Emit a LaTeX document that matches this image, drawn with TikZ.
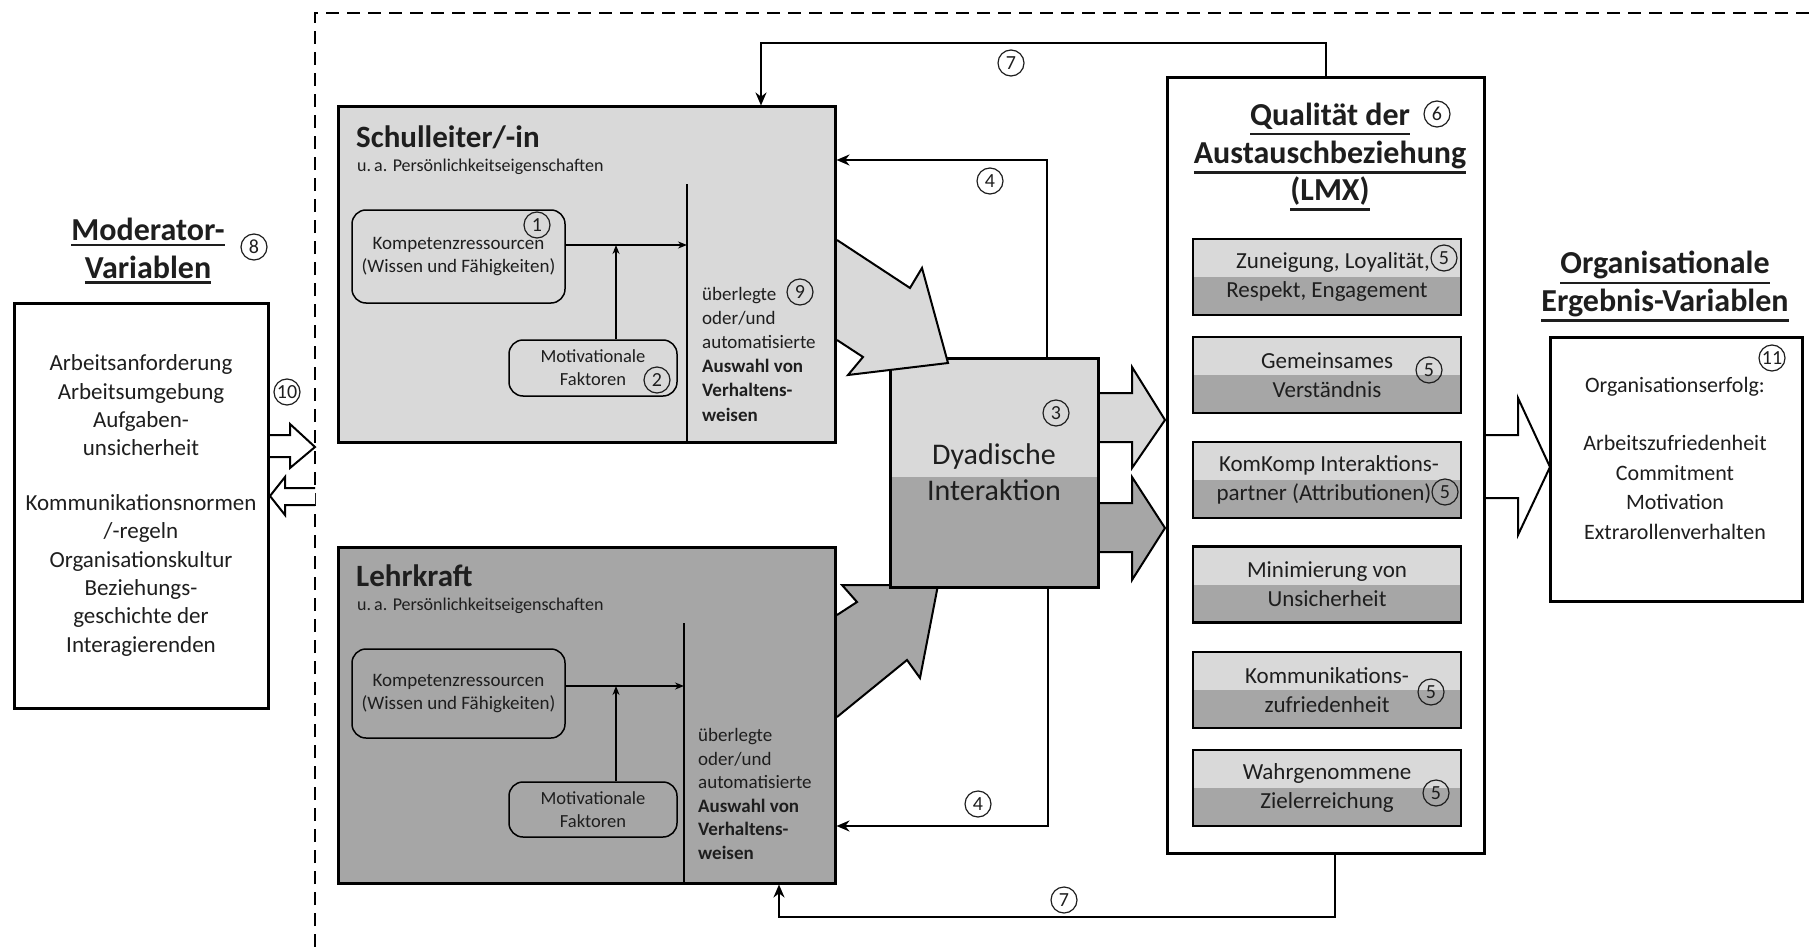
\documentclass[tikz,border=0pt]{standalone}
\usepackage{fontspec}
\setmainfont{Carlito}
\usetikzlibrary{arrows.meta,calc}

\definecolor{lightfill}{HTML}{D9D9D9}
\definecolor{darkfill}{HTML}{A6A6A6}
\definecolor{ink}{HTML}{1E1E1E}

% font size shorthand
\newcommand{\fs}[2]{\fontsize{#1}{#2}\selectfont}
% thick underline that sits below the descenders of its line
\newcommand{\ul}[1]{\setbox0\hbox{#1}\leavevmode\rlap{\vrule width\wd0 height\dimexpr-\dp0-3pt\relax depth\dimexpr\dp0+5.5pt\relax}\box0}

\tikzset{
  frame/.style={draw=black, line width=3pt, inner sep=0pt},
  roundbox/.style={draw=black, line width=1.5pt, rounded corners=14pt, inner sep=0pt},
  twotone/.style={fill=lightfill, path picture={
      \fill[darkfill] ($(path picture bounding box.south west)!#1!(path picture bounding box.north west)$)
        rectangle (path picture bounding box.south east);}},
  itembox/.style={frame, line width=2.6pt, twotone=0.5, minimum width=268pt, minimum height=76pt,
      align=center, font=\fs{23}{29}},
  num/.style={circle, draw=ink, line width=1.2pt, minimum size=26pt, inner sep=0pt,
      font=\fs{20}{20}, text=ink},
  conn/.style={draw=black, line width=2.2pt},
  tip/.style={-{Stealth[length=13pt,width=11pt]}},
  thinline/.style={draw=black, line width=1.5pt},
  thintip/.style={-{Stealth[length=9pt,width=7pt]}},
  blockout/.style={draw=black, line width=2pt, line join=miter},
  title/.style={font=\bfseries\fs{32}{37.5}, align=center},
}

\begin{document}
\begin{tikzpicture}[x=1pt,y=-1pt, every node/.style={text=ink}]
\useasboundingbox (0,0) rectangle (1809,947);
\fill[white] (0,0) rectangle (1809,947);

% dashed system boundary
\draw[line width=2.6pt, dash pattern=on 13pt off 8pt] (315,947) -- (315,13) -- (1809,13);

% ---------------- moderator variables ----------------
\node[title] (modtitle) at (148,251) {\ul{Moderator-}\\\ul{Variablen}};
\node[num] (n8) at (254,247) {8};
\node[frame, fill=white, minimum width=254pt, minimum height=405pt] (mod) at (141,505.5) {};
\node[align=center, font=\fs{23}{28.4}, inner sep=0pt] (modtext) at (mod.center)
  {Arbeitsanforderung\\Arbeitsumgebung\\Aufgaben-\\unsicherheit\\[26pt]Kommunikationsnormen\\/-regeln\\Organisationskultur\\Beziehungs-\\geschichte der\\Interagierenden};
\node[num] (n10) at (287,392) {10};
% hollow arrows between moderator box and boundary
\draw[blockout, fill=white] (270,435) -- (290,435) -- (290,424) -- (315,447) -- (290,468) -- (290,457) -- (270,457);
\draw[blockout, fill=white] (315,488) -- (285,488) -- (285,477) -- (270,496) -- (285,515) -- (285,505) -- (315,505);

% ---------------- Schulleiter/-in ----------------
\node[frame, fill=lightfill, minimum width=497pt, minimum height=335pt] (sl) at (586.5,274.5) {};
\node[anchor=base west, font=\bfseries\fs{31}{36}, inner sep=0pt] (sltitle) at (356,147) {Schulleiter/-in};
\node[anchor=base west, font=\fs{18}{20}, inner sep=0pt] (slsub) at (357,171) {u.\,a. Persönlichkeitseigenschaften};
\coordinate (slv) at (687,184);
\draw[thinline] (slv) -- (sl.south -| slv);
\node[roundbox, minimum width=213pt, minimum height=93pt, align=center, font=\fs{19}{23}] (slkomp) at (458.5,256.5)
  {Kompetenzressourcen\\(Wissen und Fähigkeiten)};
\node[roundbox, minimum width=168pt, minimum height=56pt, align=center, font=\fs{18.5}{23}] (slmot) at (593,368)
  {Motivationale\\Faktoren};
\coordinate (slj) at (616,245);
\draw[thinline, thintip] (slkomp.east |- slj) -- (slv |- slj);
\draw[thinline, thintip] (slmot.north -| slj) -- (slj);
\node[anchor=west, align=left, font=\fs{19}{24.2}, inner sep=0pt] (slchoice) at (702,354)
  {überlegte\\oder/und\\automatisierte\\\textbf{Auswahl von}\\\textbf{Verhaltens-}\\\textbf{weisen}};
\node[num] (n1) at (537,225) {1};
\node[num] (n2) at (657,380) {2};
\node[num] (n9) at (800,292) {9};

% ---------------- Lehrkraft ----------------
\node[frame, fill=darkfill, minimum width=497pt, minimum height=336pt] (lk) at (586.5,715) {};
\node[anchor=base west, font=\bfseries\fs{31}{36}, inner sep=0pt] (lktitle) at (356,586) {Lehrkraft};
\node[anchor=base west, font=\fs{18}{20}, inner sep=0pt] (lksub) at (357,610) {u.\,a. Persönlichkeitseigenschaften};
\coordinate (lkv) at (684,623);
\draw[thinline] (lkv) -- (lk.south -| lkv);
\node[roundbox, minimum width=213pt, minimum height=89pt, align=center, font=\fs{19}{23}] (lkkomp) at (458.5,693.5)
  {Kompetenzressourcen\\(Wissen und Fähigkeiten)};
\node[roundbox, minimum width=168pt, minimum height=55pt, align=center, font=\fs{18.5}{23}] (lkmot) at (593,809.5)
  {Motivationale\\Faktoren};
\coordinate (lkj) at (616,686);
\draw[thinline, thintip] (lkkomp.east |- lkj) -- (lkv |- lkj);
\draw[thinline, thintip] (lkmot.north -| lkj) -- (lkj);
\node[anchor=west, align=left, font=\fs{19}{23.6}, inner sep=0pt] (lkchoice) at (698,794)
  {überlegte\\oder/und\\automatisierte\\\textbf{Auswahl von}\\\textbf{Verhaltens-}\\\textbf{weisen}};

% ---------------- dyadic interaction ----------------
% block arrow from Lehrkraft (lies under the interaction box)
\fill[darkfill] (837,615) -- (857,602) -- (842,585) -- (938,585) -- (920,678) -- (907,660) -- (837,717) -- cycle;
\draw[blockout] (837,615) -- (857,602) -- (842,585) -- (938,585) -- (920,678) -- (907,660) -- (837,717);
\node[frame, twotone=0.48, minimum width=208pt, minimum height=229pt, align=center, font=\fs{30}{36}] (dy) at (994,472.5)
  {Dyadische\\Interaktion};
% block arrow from Schulleiter/-in (lies over the interaction box)
\fill[lightfill] (837,240) -- (910,288) -- (922,268) -- (948,363) -- (848,375) -- (863,357) -- (837,340) -- cycle;
\draw[blockout] (837,240) -- (910,288) -- (922,268) -- (948,363) -- (848,375) -- (863,357) -- (837,340);
\node[num] (n3) at (1056,413) {3};

% block arrows into the exchange quality box
\fill[lightfill] (1100,393) -- (1132,393) -- (1132,367) -- (1165,420) -- (1132,468) -- (1132,442) -- (1100,442) -- cycle;
\draw[blockout] (1100,393) -- (1132,393) -- (1132,367) -- (1165,420) -- (1132,468) -- (1132,442) -- (1100,442);
\fill[darkfill] (1100,503) -- (1132,503) -- (1132,477) -- (1165,528) -- (1132,580) -- (1132,552) -- (1100,552) -- cycle;
\draw[blockout] (1100,503) -- (1132,503) -- (1132,477) -- (1165,528) -- (1132,580) -- (1132,552) -- (1100,552);

% ---------------- quality of exchange (LMX) ----------------
\node[frame, fill=white, minimum width=317pt, minimum height=775pt] (lmx) at (1325.5,465.5) {};
\node[title] (lmxtitle) at (1330,157) {\ul{Qualität der}\\\ul{Austauschbeziehung}\\\ul{(LMX)}};
\node[num] (n6) at (1437,114) {6};
\node[itembox] (q1) at (1327,277) {\hspace*{12pt}Zuneigung, Loyalität,\\Respekt, Engagement};
\node[itembox] (q2) at (1327,375) {Gemeinsames\\Verständnis};
\node[itembox] (q3) at (1327,480) {KomKomp Interaktions-\hspace*{-4pt}\\partner (Attributionen)\hspace*{6pt}};
\node[itembox] (q4) at (1327,584.5) {Minimierung von\\Unsicherheit};
\node[itembox] (q5) at (1327,690) {Kommunikations-\\zufriedenheit};
\node[itembox] (q6) at (1327,788) {Wahrgenommene\\Zielerreichung};
\node[num] (n5a) at (1444,258) {5};
\node[num] (n5b) at (1429,370) {5};
\node[num] (n5c) at (1445,492) {5};
\node[num] (n5d) at (1431,692) {5};
\node[num] (n5e) at (1436,793) {5};

% ---------------- feedback loops ----------------
\coordinate (k7a) at (1326,43);
\coordinate (k7b) at (761,43);
\draw[conn, tip] (lmx.north -| k7a) -- (k7a) -- (k7b) -- (sl.north -| k7b);
\node[num] (n7a) at (1011,63) {7};
\coordinate (k7c) at (1335,917);
\coordinate (k7d) at (779,917);
\draw[conn, tip] (lmx.south -| k7c) -- (k7c) -- (k7d) -- (lk.south -| k7d);
\node[num] (n7b) at (1064,900) {7};
\coordinate (k4a) at (1047,160);
\draw[conn, tip] (dy.north -| k4a) -- (k4a) -- (sl.east |- k4a);
\node[num] (n4a) at (990,181) {4};
\coordinate (k4b) at (1048,826);
\draw[conn, tip] (dy.south -| k4b) -- (k4b) -- (lk.east |- k4b);
\node[num] (n4b) at (978,804) {4};

% ---------------- organisational outcomes ----------------
\draw[blockout, fill=white] (1486,435) -- (1518,435) -- (1518,398) -- (1550,467) -- (1518,535) -- (1518,498) -- (1486,498);
\node[title] (orgtitle) at (1665,286.5) {\ul{Organisationale}\\\ul{Ergebnis-Variablen}};
\node[frame, fill=white, minimum width=252pt, minimum height=264pt] (org) at (1676,469) {};
\node[align=center, font=\fs{22}{29.4}, inner sep=0pt] (orgtext) at (1675,458)
  {Organisationserfolg:\\[29.4pt]Arbeitszufriedenheit\\Commitment\\Motivation\\Extrarollenverhalten};
\node[num] (n11) at (1772,358) {11};
\end{tikzpicture}
\end{document}
